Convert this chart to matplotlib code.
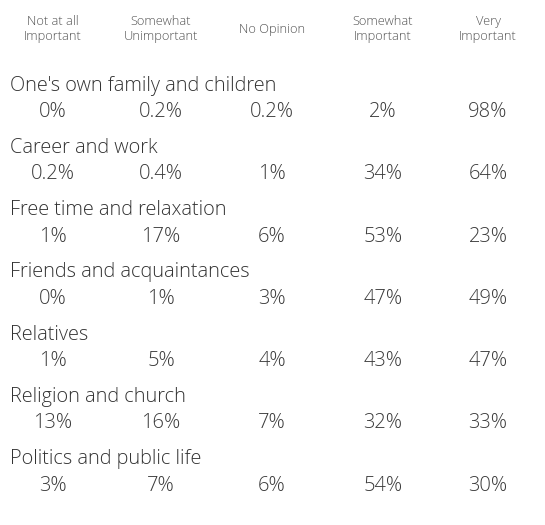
import matplotlib
matplotlib.use("Agg")
import matplotlib.pyplot as plt

headers = ["Not at all\nImportant", "Somewhat\nUnimportant", "No Opinion",
           "Somewhat\nImportant", "Very\nImportant"]
categories = ["One's own family and children", "Career and work",
              "Free time and relaxation", "Friends and acquaintances",
              "Relatives", "Religion and church", "Politics and public life"]
values = [
    ["0%", "0.2%", "0.2%", "2%", "98%"],
    ["0.2%", "0.4%", "1%", "34%", "64%"],
    ["1%", "17%", "6%", "53%", "23%"],
    ["0%", "1%", "3%", "47%", "49%"],
    ["1%", "5%", "4%", "43%", "47%"],
    ["13%", "16%", "7%", "32%", "33%"],
    ["3%", "7%", "6%", "54%", "30%"],
]

plt.rcParams['font.family'] = ['Open Sans', 'DejaVu Sans']
W, H = 545, 525
fig = plt.figure(figsize=(W / 100, H / 100), dpi=100)
ax = fig.add_axes([0, 0, 1, 1])
ax.set_xlim(0, W)
ax.set_ylim(H, 0)
ax.axis('off')

col_x = [53, 161, 272, 383, 488]
for x, h in zip(col_x, headers):
    ax.text(x, 29, h, ha='center', va='center', fontsize=9.3, color='#555555',
            fontweight='light', linespacing=1.2)

for i, (cat, vals) in enumerate(zip(categories, values)):
    yc = 85.5 + 62.3 * i
    ax.text(10, yc, cat, ha='left', va='center', fontsize=14.3, color='#333333',
            fontweight='light')
    for x, v in zip(col_x, vals):
        ax.text(x, yc + 26.5, v, ha='center', va='center', fontsize=14.5,
                color='#3a3a3a', fontweight='light')

fig.savefig("out.png", dpi=100, facecolor='white')
